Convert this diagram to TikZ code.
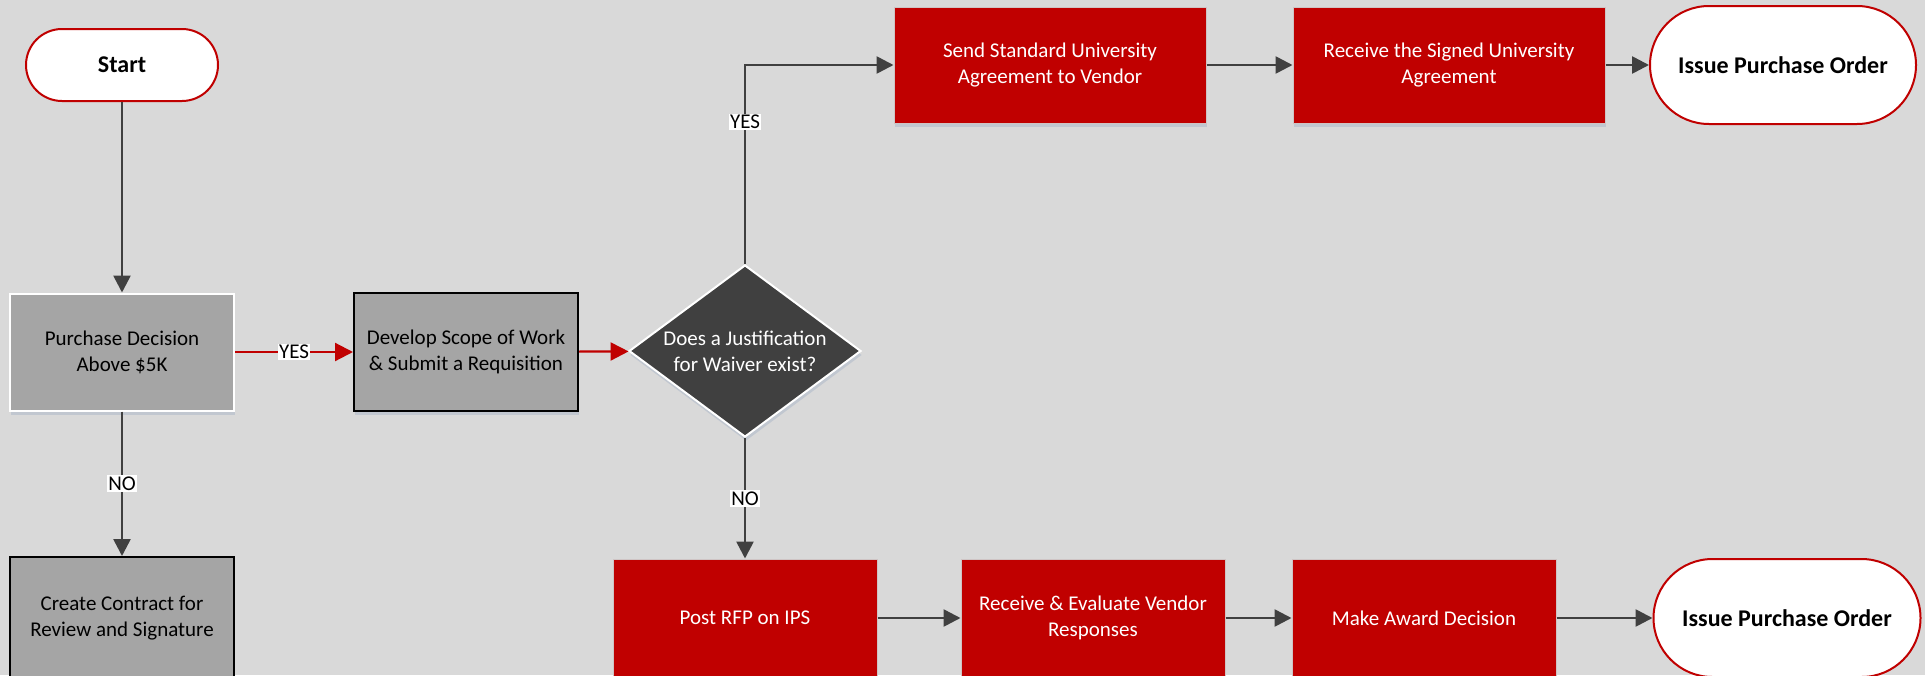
\documentclass[tikz,border=0pt]{standalone}
\usepackage{fontspec}
\setmainfont{Carlito}
\usetikzlibrary{shapes.geometric,arrows.meta,shadows}
\definecolor{bg}{HTML}{D9D9D9}
\definecolor{cred}{HTML}{C00000}
\definecolor{boxgray}{HTML}{A5A5A5}
\definecolor{dark}{HTML}{404040}
\definecolor{shadowc}{HTML}{BCC3CE}
\definecolor{rededge}{HTML}{CFC4C4}
\begin{document}
\begin{tikzpicture}[x=1pt,y=-1pt,
  every node/.style={font=\fontsize{21}{26}\selectfont, align=center, inner sep=0pt},
  sh/.style={drop shadow={shadow xshift=1pt,shadow yshift=-4pt,fill=shadowc,opacity=0.8}},
  graybox/.style={rectangle, fill=boxgray, draw=black, line width=2pt, minimum width=224pt, text=black, sh},
  redbox/.style={rectangle, fill=cred, draw=rededge, line width=1pt, text=white, sh},
  terminal/.style={rectangle, fill=white, draw=cred, line width=2pt, text=black, font=\fontsize{24}{29}\selectfont\bfseries},
  conn/.style={draw=dark, line width=2.6pt, -{Triangle[length=17pt,width=17pt]}},
  redconn/.style={draw=cred, line width=2.2pt, -{Triangle[length=18pt,width=18pt]}},
  lab/.style={fill=white, text=black, inner xsep=1pt, inner ysep=1.5pt}
]
\fill[bg] (0,0) rectangle (1925,675);
\useasboundingbox (0,0) rectangle (1925,675);

% nodes
\node[terminal, minimum width=192pt, minimum height=72pt, rounded corners=36pt] (start) at (122,65) {Start};
\node[graybox, draw=white, minimum height=117pt] (purchase) at (122,352) {Purchase Decision\\Above \$5K};
\node[graybox, minimum height=118pt] (develop) at (466,352) {Develop Scope of Work\\\& Submit a Requisition};
\node[graybox, minimum height=122pt] (contract) at (122,618) {Create Contract for\\Review and Signature};
\node[diamond, fill=dark, draw=white, line width=2pt, text=white, minimum width=232pt, minimum height=172pt, aspect=1.35, sh] (waiver) at (745,351) {Does a Justification\\for Waiver exist?};

\node[redbox, minimum width=312pt, minimum height=116pt] (send) at (1050,65) {Send Standard University\\Agreement to Vendor};
\node[redbox, minimum width=312pt, minimum height=116pt] (signed) at (1449,65) {Receive the Signed University\\Agreement};
\node[terminal, minimum width=266pt, minimum height=118pt, rounded corners=59pt] (issueA) at (1783,65) {Issue Purchase Order};

\node[redbox, minimum width=264pt, minimum height=118pt] (rfp) at (745,618) {Post RFP on IPS};
\node[redbox, minimum width=264pt, minimum height=118pt] (eval) at (1093,618) {Receive \& Evaluate Vendor\\Responses};
\node[redbox, minimum width=264pt, minimum height=118pt] (award) at (1424,618) {Make Award Decision};
\node[terminal, minimum width=267pt, minimum height=118pt, rounded corners=59pt] (issueB) at (1787,618) {Issue Purchase Order};

% connectors
\draw[conn] (start) -- (purchase);
\draw[redconn] (purchase) -- node[lab] {YES} (develop);
\draw[conn] (purchase) -- node[lab] {NO} (contract);
\draw[redconn] (develop) -- (waiver);
\draw[conn] (waiver.north) |- node[lab, pos=0.357] {YES} (send.west);
\draw[conn] (waiver.south) -- node[lab] {NO} (rfp.north);
\draw[conn] (send) -- (signed);
\draw[conn] (signed) -- (issueA);
\draw[conn] (rfp) -- (eval);
\draw[conn] (eval) -- (award);
\draw[conn] (award) -- (issueB);
\end{tikzpicture}
\end{document}
